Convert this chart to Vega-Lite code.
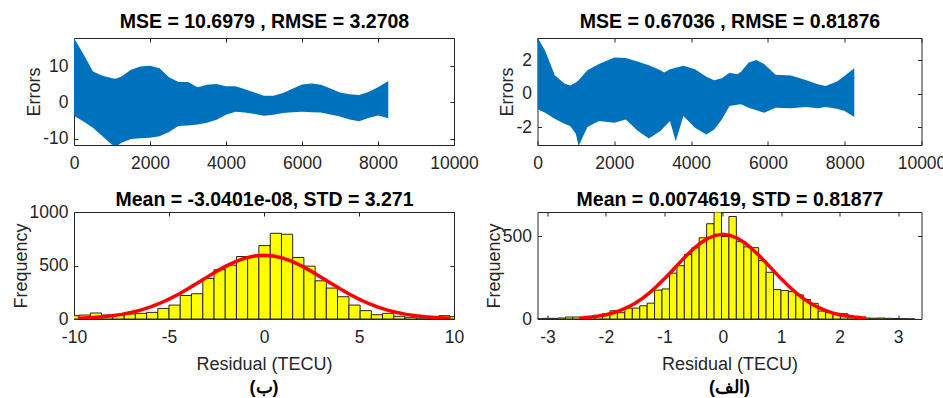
{
  "$schema": "https://vega.github.io/schema/vega-lite/v6.json",
  "padding": {"left": 12, "top": 11, "right": 0, "bottom": 0},
  "config": {
    "font": "Liberation Sans",
    "view": {"stroke": null},
    "axis": {
      "grid": false,
      "labelFlush": false,
      "labelOverlap": false,
      "domainColor": "#262626",
      "tickColor": "#262626",
      "labelColor": "#262626",
      "titleColor": "#262626",
      "labelFontSize": 17.5,
      "titleFontSize": 18,
      "titleFontWeight": "normal",
      "tickSize": -4,
      "domainWidth": 1,
      "tickWidth": 1
    },
    "axisX": {"labelPadding": 13, "titlePadding": 10},
    "axisY": {"labelPadding": 10, "titlePadding": -1},
    "title": {"fontSize": 17.5, "fontWeight": "bold", "color": "#000000"}
  },
  "datasets": {
    "errA": [
      {"x": 0, "hi": 17.9, "lo": -3.7},
      {"x": 250, "hi": 13.4, "lo": -5.3},
      {"x": 500, "hi": 8.6, "lo": -7.0},
      {"x": 750, "hi": 7.4, "lo": -9.4},
      {"x": 1000, "hi": 6.7, "lo": -11.7},
      {"x": 1100, "hi": 6.6, "lo": -12.3},
      {"x": 1250, "hi": 7.2, "lo": -11.2},
      {"x": 1500, "hi": 9.1, "lo": -10.1},
      {"x": 1750, "hi": 10.0, "lo": -9.9},
      {"x": 2000, "hi": 10.2, "lo": -9.8},
      {"x": 2250, "hi": 9.5, "lo": -9.4},
      {"x": 2500, "hi": 7.0, "lo": -8.2},
      {"x": 2750, "hi": 5.7, "lo": -6.5},
      {"x": 3000, "hi": 5.7, "lo": -6.4},
      {"x": 3250, "hi": 4.2, "lo": -6.1},
      {"x": 3500, "hi": 4.9, "lo": -5.6},
      {"x": 3750, "hi": 5.1, "lo": -4.8},
      {"x": 4000, "hi": 4.5, "lo": -3.4},
      {"x": 4250, "hi": 4.5, "lo": -2.6},
      {"x": 4500, "hi": 3.7, "lo": -2.8},
      {"x": 4750, "hi": 2.8, "lo": -3.2},
      {"x": 5000, "hi": 1.9, "lo": -3.7},
      {"x": 5250, "hi": 1.9, "lo": -3.4},
      {"x": 5500, "hi": 2.6, "lo": -2.9},
      {"x": 5750, "hi": 3.8, "lo": -2.7},
      {"x": 6000, "hi": 5.0, "lo": -2.6},
      {"x": 6250, "hi": 5.3, "lo": -2.7},
      {"x": 6500, "hi": 4.9, "lo": -2.8},
      {"x": 6750, "hi": 3.9, "lo": -3.3},
      {"x": 7000, "hi": 2.8, "lo": -3.9},
      {"x": 7250, "hi": 2.3, "lo": -4.7},
      {"x": 7500, "hi": 2.1, "lo": -5.2},
      {"x": 7750, "hi": 2.9, "lo": -4.3},
      {"x": 8000, "hi": 4.2, "lo": -3.6},
      {"x": 8250, "hi": 5.8, "lo": -4.3},
      {"x": 8270, "hi": 5.9, "lo": -4.5}
    ],
    "errB": [
      {"x": 0, "hi": 3.36, "lo": -0.94},
      {"x": 200, "hi": 2.56, "lo": -1.14},
      {"x": 450, "hi": 1.1, "lo": -1.5},
      {"x": 700, "hi": 0.6, "lo": -1.8},
      {"x": 850, "hi": 0.48, "lo": -1.94},
      {"x": 1000, "hi": 0.66, "lo": -2.4},
      {"x": 1070, "hi": 0.8, "lo": -3.14},
      {"x": 1300, "hi": 1.4, "lo": -2.0},
      {"x": 1600, "hi": 1.76, "lo": -1.64},
      {"x": 2000, "hi": 2.16, "lo": -1.74},
      {"x": 2300, "hi": 2.12, "lo": -1.54},
      {"x": 2600, "hi": 1.92, "lo": -2.2},
      {"x": 2900, "hi": 1.7, "lo": -2.68},
      {"x": 3200, "hi": 1.4, "lo": -2.24},
      {"x": 3300, "hi": 1.26, "lo": -2.0},
      {"x": 3450, "hi": 1.45, "lo": -1.64},
      {"x": 3600, "hi": 1.55, "lo": -2.84},
      {"x": 3800, "hi": 1.66, "lo": -1.34},
      {"x": 4100, "hi": 1.46, "lo": -2.04},
      {"x": 4400, "hi": 1.0, "lo": -2.44},
      {"x": 4600, "hi": 0.8, "lo": -2.14},
      {"x": 4800, "hi": 0.92, "lo": -1.54},
      {"x": 5000, "hi": 1.24, "lo": -0.74},
      {"x": 5200, "hi": 1.16, "lo": -0.66},
      {"x": 5300, "hi": 1.3, "lo": -0.64},
      {"x": 5500, "hi": 1.86, "lo": -0.84},
      {"x": 5700, "hi": 2.0, "lo": -1.0},
      {"x": 5900, "hi": 1.76, "lo": -1.14},
      {"x": 6200, "hi": 1.12, "lo": -0.84},
      {"x": 6600, "hi": 1.08, "lo": -0.88},
      {"x": 7000, "hi": 0.8, "lo": -0.8},
      {"x": 7300, "hi": 0.56, "lo": -0.88},
      {"x": 7500, "hi": 0.46, "lo": -0.8},
      {"x": 7800, "hi": 0.72, "lo": -0.9},
      {"x": 8000, "hi": 1.06, "lo": -1.04},
      {"x": 8250, "hi": 1.52, "lo": -1.4}
    ],
    "histA": [
      {"x0": -10.32, "x1": -9.73, "n": 31},
      {"x0": -9.73, "x1": -9.14, "n": 37},
      {"x0": -9.14, "x1": -8.55, "n": 56},
      {"x0": -8.55, "x1": -7.96, "n": 37},
      {"x0": -7.96, "x1": -7.36, "n": 34},
      {"x0": -7.36, "x1": -6.77, "n": 47},
      {"x0": -6.77, "x1": -6.18, "n": 53},
      {"x0": -6.18, "x1": -5.59, "n": 62},
      {"x0": -5.59, "x1": -5.0, "n": 99},
      {"x0": -5.0, "x1": -4.41, "n": 130},
      {"x0": -4.41, "x1": -3.82, "n": 220},
      {"x0": -3.82, "x1": -3.22, "n": 236},
      {"x0": -3.22, "x1": -2.63, "n": 379},
      {"x0": -2.63, "x1": -2.04, "n": 460},
      {"x0": -2.04, "x1": -1.45, "n": 503},
      {"x0": -1.45, "x1": -0.86, "n": 584},
      {"x0": -0.86, "x1": -0.27, "n": 584},
      {"x0": -0.27, "x1": 0.33, "n": 686},
      {"x0": 0.33, "x1": 0.92, "n": 801},
      {"x0": 0.92, "x1": 1.51, "n": 792},
      {"x0": 1.51, "x1": 2.1, "n": 575},
      {"x0": 2.1, "x1": 2.69, "n": 494},
      {"x0": 2.69, "x1": 3.28, "n": 357},
      {"x0": 3.28, "x1": 3.87, "n": 289},
      {"x0": 3.87, "x1": 4.47, "n": 208},
      {"x0": 4.47, "x1": 5.06, "n": 130},
      {"x0": 5.06, "x1": 5.65, "n": 78},
      {"x0": 5.65, "x1": 6.24, "n": 40},
      {"x0": 6.24, "x1": 6.83, "n": 53},
      {"x0": 6.83, "x1": 7.42, "n": 25},
      {"x0": 7.42, "x1": 8.02, "n": 16},
      {"x0": 8.02, "x1": 8.61, "n": 9},
      {"x0": 8.61, "x1": 9.2, "n": 6},
      {"x0": 9.2, "x1": 9.79, "n": 31},
      {"x0": 9.79, "x1": 10.38, "n": 22}
    ],
    "histB": [
      {"x0": -3.202, "x1": -3.075, "n": 2},
      {"x0": -3.075, "x1": -2.948, "n": 4},
      {"x0": -2.948, "x1": -2.82, "n": 4},
      {"x0": -2.82, "x1": -2.693, "n": 6},
      {"x0": -2.693, "x1": -2.566, "n": 12},
      {"x0": -2.566, "x1": -2.439, "n": 12},
      {"x0": -2.439, "x1": -2.312, "n": 8},
      {"x0": -2.312, "x1": -2.184, "n": 10},
      {"x0": -2.184, "x1": -2.057, "n": 16},
      {"x0": -2.057, "x1": -1.93, "n": 32},
      {"x0": -1.93, "x1": -1.803, "n": 50},
      {"x0": -1.803, "x1": -1.676, "n": 38},
      {"x0": -1.676, "x1": -1.548, "n": 66},
      {"x0": -1.548, "x1": -1.421, "n": 66},
      {"x0": -1.421, "x1": -1.294, "n": 80},
      {"x0": -1.294, "x1": -1.167, "n": 96},
      {"x0": -1.167, "x1": -1.04, "n": 175},
      {"x0": -1.04, "x1": -0.912, "n": 182},
      {"x0": -0.912, "x1": -0.785, "n": 278},
      {"x0": -0.785, "x1": -0.658, "n": 323},
      {"x0": -0.658, "x1": -0.531, "n": 391},
      {"x0": -0.531, "x1": -0.404, "n": 431},
      {"x0": -0.404, "x1": -0.276, "n": 492},
      {"x0": -0.276, "x1": -0.149, "n": 577},
      {"x0": -0.149, "x1": -0.022, "n": 648},
      {"x0": -0.022, "x1": 0.105, "n": 500},
      {"x0": 0.105, "x1": 0.232, "n": 621},
      {"x0": 0.232, "x1": 0.36, "n": 470},
      {"x0": 0.36, "x1": 0.487, "n": 437},
      {"x0": 0.487, "x1": 0.614, "n": 432},
      {"x0": 0.614, "x1": 0.741, "n": 354},
      {"x0": 0.741, "x1": 0.868, "n": 283},
      {"x0": 0.868, "x1": 0.996, "n": 178},
      {"x0": 0.996, "x1": 1.123, "n": 172},
      {"x0": 1.123, "x1": 1.25, "n": 166},
      {"x0": 1.25, "x1": 1.377, "n": 146},
      {"x0": 1.377, "x1": 1.504, "n": 118},
      {"x0": 1.504, "x1": 1.632, "n": 95},
      {"x0": 1.632, "x1": 1.759, "n": 48},
      {"x0": 1.759, "x1": 1.886, "n": 40},
      {"x0": 1.886, "x1": 2.013, "n": 34},
      {"x0": 2.013, "x1": 2.14, "n": 32},
      {"x0": 2.14, "x1": 2.268, "n": 10},
      {"x0": 2.268, "x1": 2.395, "n": 8},
      {"x0": 2.395, "x1": 2.522, "n": 6},
      {"x0": 2.522, "x1": 2.649, "n": 5},
      {"x0": 2.649, "x1": 2.776, "n": 6},
      {"x0": 2.776, "x1": 2.904, "n": 4},
      {"x0": 2.904, "x1": 3.031, "n": 3},
      {"x0": 3.031, "x1": 3.158, "n": 2},
      {"x0": 3.158, "x1": 3.285, "n": 1}
    ],
    "fitA": [
      {"x": -9.8, "f": 6.7}, {"x": -9.5, "f": 8.8}, {"x": -9, "f": 13.5}, {"x": -8.5, "f": 20.4},
      {"x": -8, "f": 29.9}, {"x": -7.5, "f": 43.0}, {"x": -7, "f": 60.4}, {"x": -6.5, "f": 82.8},
      {"x": -6, "f": 110.8}, {"x": -5.5, "f": 145.0}, {"x": -5, "f": 185.3}, {"x": -4.5, "f": 231.4},
      {"x": -4, "f": 282.2}, {"x": -3.5, "f": 336.3}, {"x": -3, "f": 391.3}, {"x": -2.5, "f": 445.0},
      {"x": -2, "f": 494.4}, {"x": -1.5, "f": 536.5}, {"x": -1, "f": 568.8}, {"x": -0.5, "f": 589.1},
      {"x": 0, "f": 596.0},
      {"x": 0.5, "f": 589.1}, {"x": 1, "f": 568.8}, {"x": 1.5, "f": 536.5}, {"x": 2, "f": 494.4},
      {"x": 2.5, "f": 445.0}, {"x": 3, "f": 391.3}, {"x": 3.5, "f": 336.3}, {"x": 4, "f": 282.2},
      {"x": 4.5, "f": 231.4}, {"x": 5, "f": 185.3}, {"x": 5.5, "f": 145.0}, {"x": 6, "f": 110.8},
      {"x": 6.5, "f": 82.8}, {"x": 7, "f": 60.4}, {"x": 7.5, "f": 43.0}, {"x": 8, "f": 29.9},
      {"x": 8.5, "f": 20.4}, {"x": 9, "f": 13.5}, {"x": 9.5, "f": 8.8}, {"x": 9.8, "f": 6.7}
    ],
    "fitB": [
      {"x": -2.45, "f": 5.8}, {"x": -2.375, "f": 7.6}, {"x": -2.25, "f": 11.7}, {"x": -2.125, "f": 17.7},
      {"x": -2.0, "f": 25.9}, {"x": -1.875, "f": 37.3}, {"x": -1.75, "f": 52.2}, {"x": -1.625, "f": 71.5},
      {"x": -1.5, "f": 95.7}, {"x": -1.375, "f": 125.1}, {"x": -1.25, "f": 159.8}, {"x": -1.125, "f": 199.5},
      {"x": -1.0, "f": 243.1}, {"x": -0.875, "f": 289.6}, {"x": -0.75, "f": 337.0}, {"x": -0.625, "f": 383.1},
      {"x": -0.5, "f": 425.4}, {"x": -0.375, "f": 461.5}, {"x": -0.25, "f": 489.3}, {"x": -0.125, "f": 506.7},
      {"x": 0, "f": 512.6},
      {"x": 0.125, "f": 506.7}, {"x": 0.25, "f": 489.3}, {"x": 0.375, "f": 461.5}, {"x": 0.5, "f": 425.4},
      {"x": 0.625, "f": 383.1}, {"x": 0.75, "f": 337.0}, {"x": 0.875, "f": 289.6}, {"x": 1.0, "f": 243.1},
      {"x": 1.125, "f": 199.5}, {"x": 1.25, "f": 159.8}, {"x": 1.375, "f": 125.1}, {"x": 1.5, "f": 95.7},
      {"x": 1.625, "f": 71.5}, {"x": 1.75, "f": 52.2}, {"x": 1.875, "f": 37.3}, {"x": 2.0, "f": 25.9},
      {"x": 2.125, "f": 17.7}, {"x": 2.25, "f": 11.7}, {"x": 2.375, "f": 7.6}, {"x": 2.45, "f": 5.8}
    ]
  },
  "concat": [
    {
      "width": 380, "height": 107,
      "data": {"name": "errA"},
      "layer": [
        {
          "mark": {"type": "area", "color": "#0072BD", "clip": true},
          "encoding": {
            "x": {"field": "x", "type": "quantitative", "scale": {"domain": [0, 10000], "nice": false},
                  "axis": {"values": [0, 2000, 4000, 6000, 8000, 10000], "labelExpr": "'' + datum.value", "title": null}},
            "y": {"field": "hi", "type": "quantitative", "scale": {"domain": [-11.8, 17.9], "nice": false, "zero": false},
                  "axis": {"values": [-10, 0, 10], "labelExpr": "'' + datum.value", "title": "Errors"}},
            "y2": {"field": "lo"}
          }
        },
        {
          "mark": {"type": "point", "opacity": 0},
          "encoding": {
            "x": {"field": "x", "type": "quantitative",
                  "axis": {"orient": "top", "values": [0, 2000, 4000, 6000, 8000, 10000], "labels": false,
                           "title": "MSE = 10.6979 , RMSE = 3.2708", "titleFontWeight": "bold", "titleFontSize": 19.5, "titleColor": "#000000", "titlePadding": 6}},
            "y": {"field": "hi", "type": "quantitative",
                  "axis": {"orient": "right", "values": [-10, 0, 10], "labels": false, "title": null}}
          }
        }
      ],
      "resolve": {"axis": {"x": "independent", "y": "independent"}}
    },
    {
      "width": 384, "height": 107,
      "data": {"name": "errB"},
      "layer": [
        {
          "mark": {"type": "area", "color": "#0072BD", "clip": true},
          "encoding": {
            "x": {"field": "x", "type": "quantitative", "scale": {"domain": [0, 10000], "nice": false},
                  "axis": {"values": [0, 2000, 4000, 6000, 8000, 10000], "labelExpr": "'' + datum.value", "title": null}},
            "y": {"field": "hi", "type": "quantitative", "scale": {"domain": [-3.07, 3.32], "nice": false, "zero": false},
                  "axis": {"values": [-2, 0, 2], "labelExpr": "'' + datum.value", "title": "Errors"}},
            "y2": {"field": "lo"}
          }
        },
        {
          "mark": {"type": "point", "opacity": 0},
          "encoding": {
            "x": {"field": "x", "type": "quantitative",
                  "axis": {"orient": "top", "values": [0, 2000, 4000, 6000, 8000, 10000], "labels": false,
                           "title": "MSE = 0.67036 , RMSE = 0.81876", "titleFontWeight": "bold", "titleFontSize": 19.5, "titleColor": "#000000", "titlePadding": 6}},
            "y": {"field": "hi", "type": "quantitative",
                  "axis": {"orient": "right", "values": [-2, 0, 2], "labels": false, "title": null}}
          }
        }
      ],
      "resolve": {"axis": {"x": "independent", "y": "independent"}}
    },
    {
      "width": 380, "height": 107,
      "title": {"text": "(ب)", "orient": "bottom", "fontSize": 18, "offset": 5},
      "layer": [
        {
          "data": {"name": "histA"},
          "mark": {"type": "bar", "fill": "#FFFF00", "stroke": "#262626", "strokeWidth": 1, "clip": true},
          "encoding": {
            "x": {"field": "x0", "type": "quantitative", "scale": {"domain": [-10, 10], "nice": false},
                  "axis": {"values": [-10, -5, 0, 5, 10], "labelExpr": "'' + datum.value", "title": "Residual (TECU)"}},
            "x2": {"field": "x1"},
            "y": {"field": "n", "type": "quantitative", "scale": {"domain": [0, 1000], "nice": false},
                  "axis": {"values": [0, 500, 1000], "labelExpr": "'' + datum.value", "title": "Frequency"}},
            "y2": {"datum": 0}
          }
        },
        {
          "data": {"name": "fitA"},
          "mark": {"type": "line", "color": "#FF0000", "strokeWidth": 3.5, "clip": true},
          "encoding": {
            "x": {"field": "x", "type": "quantitative", "axis": null},
            "y": {"field": "f", "type": "quantitative", "axis": null}
          }
        },
        {
          "data": {"name": "fitA"},
          "mark": {"type": "point", "opacity": 0},
          "encoding": {
            "x": {"field": "x", "type": "quantitative",
                  "axis": {"orient": "top", "values": [-10, -5, 0, 5, 10], "labels": false,
                           "title": "Mean = -3.0401e-08, STD = 3.271", "titleFontWeight": "bold", "titleFontSize": 19.5, "titleColor": "#000000", "titlePadding": 2}},
            "y": {"field": "f", "type": "quantitative",
                  "axis": {"orient": "right", "values": [0, 500, 1000], "labels": false, "title": null}}
          }
        }
      ],
      "resolve": {"axis": {"x": "independent", "y": "independent"}}
    },
    {
      "width": 384, "height": 107,
      "title": {"text": "(الف)", "orient": "bottom", "fontSize": 18, "offset": 5},
      "layer": [
        {
          "data": {"name": "histB"},
          "mark": {"type": "bar", "fill": "#FFFF00", "stroke": "#262626", "strokeWidth": 1, "clip": true},
          "encoding": {
            "x": {"field": "x0", "type": "quantitative", "scale": {"domain": [-3.17, 3.4], "nice": false},
                  "axis": {"values": [-3, -2, -1, 0, 1, 2, 3], "labelExpr": "'' + datum.value", "title": "Residual (TECU)"}},
            "x2": {"field": "x1"},
            "y": {"field": "n", "type": "quantitative", "scale": {"domain": [0, 648], "nice": false},
                  "axis": {"values": [0, 500], "labelExpr": "'' + datum.value", "title": "Frequency"}},
            "y2": {"datum": 0}
          }
        },
        {
          "data": {"name": "fitB"},
          "mark": {"type": "line", "color": "#FF0000", "strokeWidth": 3.5, "clip": true},
          "encoding": {
            "x": {"field": "x", "type": "quantitative", "axis": null},
            "y": {"field": "f", "type": "quantitative", "axis": null}
          }
        },
        {
          "data": {"name": "fitB"},
          "mark": {"type": "point", "opacity": 0},
          "encoding": {
            "x": {"field": "x", "type": "quantitative",
                  "axis": {"orient": "top", "values": [-3, -2, -1, 0, 1, 2, 3], "labels": false,
                           "title": "Mean = 0.0074619, STD = 0.81877", "titleFontWeight": "bold", "titleFontSize": 19.5, "titleColor": "#000000", "titlePadding": 2}},
            "y": {"field": "f", "type": "quantitative",
                  "axis": {"orient": "right", "values": [0, 500], "labels": false, "title": null}}
          }
        }
      ],
      "resolve": {"axis": {"x": "independent", "y": "independent"}}
    }
  ],
  "columns": 2,
  "align": "each",
  "bounds": "flush",
  "spacing": {"row": 67, "column": 83.5}
}
